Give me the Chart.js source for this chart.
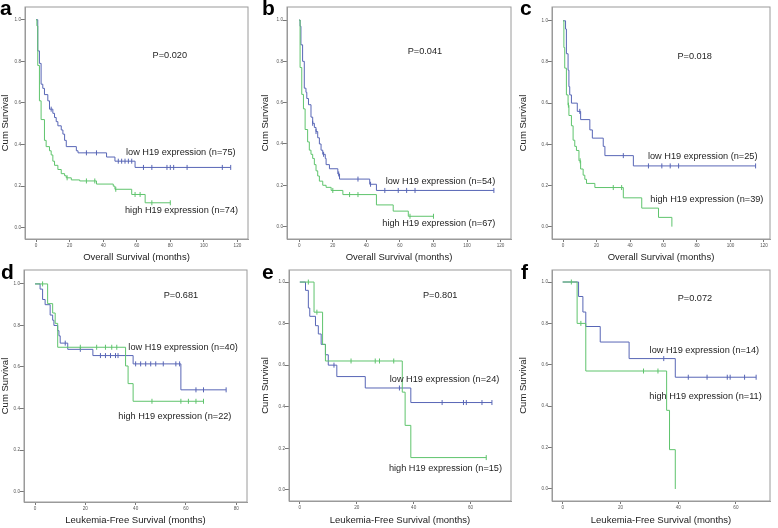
<!DOCTYPE html>
<html><head><meta charset="utf-8">
<script src="https://cdn.jsdelivr.net/npm/chart.js@4.4.1/dist/chart.umd.min.js"></script>
<style>
html,body{margin:0;padding:0;background:#fff;}
body{width:778px;height:528px;overflow:hidden;position:relative;}
canvas{position:absolute;}
</style>
</head><body>
<script>
// ---------- data (months, cumulative survival) ----------
const xTicksOS = [0, 20, 40, 60, 80, 100, 120];
const xTicksLFS = [0, 20, 40, 60, 80];
const xTicksLFS60 = [0, 20, 40, 60];
const yTicks = [0.0, 0.2, 0.4, 0.6, 0.8, 1.0];

// panel a
const aLowT = [0, 1, 2, 3, 4, 5, 7, 8, 10, 11, 12, 13, 15, 16, 17, 18, 24, 25, 42, 47, 59, 116];
const aLowS = [1.0, 0.85, 0.79, 0.69, 0.67, 0.64, 0.61, 0.57, 0.55, 0.53, 0.51, 0.49, 0.47, 0.45, 0.42, 0.39, 0.37, 0.36, 0.34, 0.32, 0.29, 0.29];
const aLowCens = [9, 30, 36, 49, 51, 53, 55, 57, 64, 69, 78, 80, 82, 90, 111, 116];
const aHighT = [0, 0.5, 1, 2, 3, 5, 6, 8, 9, 10, 11, 13, 15, 17, 18, 21, 26, 36, 46, 47, 57, 65, 80];
const aHighS = [1.0, 0.97, 0.78, 0.61, 0.52, 0.42, 0.39, 0.37, 0.35, 0.32, 0.30, 0.28, 0.26, 0.25, 0.24, 0.23, 0.225, 0.21, 0.20, 0.185, 0.16, 0.12, 0.12];
const aHighCens = [18.5, 30, 35, 47.5, 59, 62, 69, 80];

// panel b
const bLowT = [0, 0.5, 1, 2, 3, 4, 4.5, 5.5, 7, 8, 9, 10, 11, 12, 13, 14, 15.5, 16, 18, 23, 24, 42, 46, 116];
const bLowS = [1, 0.97, 0.88, 0.80, 0.67, 0.65, 0.62, 0.59, 0.53, 0.50, 0.48, 0.46, 0.43, 0.40, 0.37, 0.35, 0.33, 0.30, 0.28, 0.255, 0.23, 0.205, 0.175, 0.175];
const bLowCens = [8, 10, 14.5, 23.5, 35, 42.5, 51, 59, 64, 69, 116];
const bHighT = [0, 0.5, 1.5, 2.5, 3.5, 5, 6, 7, 8, 9, 10, 11, 12, 14, 16, 19, 26, 46, 56, 65, 80];
const bHighS = [1, 0.77, 0.64, 0.57, 0.47, 0.41, 0.37, 0.35, 0.33, 0.30, 0.27, 0.245, 0.22, 0.20, 0.19, 0.175, 0.155, 0.105, 0.075, 0.05, 0.05];
const bHighCens = [20, 30, 35, 66, 80];

// panel c
const cLowT = [0, 1.5, 2, 3, 3.5, 4, 5, 8.5, 10.5, 16, 17.5, 24, 25, 42, 115];
const cLowS = [1, 0.96, 0.84, 0.76, 0.68, 0.64, 0.60, 0.56, 0.52, 0.47, 0.43, 0.39, 0.345, 0.295, 0.295];
const cLowCens = [10, 36, 51, 59, 64, 69, 115];
const cHighT = [0, 0.5, 1, 2, 3, 3.5, 5, 6, 7, 8, 9.5, 10.5, 12, 13, 14, 19, 36, 47, 57, 65];
const cHighS = [1, 0.87, 0.77, 0.64, 0.59, 0.54, 0.49, 0.42, 0.39, 0.37, 0.32, 0.28, 0.25, 0.23, 0.21, 0.19, 0.14, 0.09, 0.045, 0.0];
const cHighCens = [3.2, 10.2, 30, 35];

// panel d
const dLowT = [0, 2, 3, 4, 6, 7, 7.5, 9, 9.5, 10, 13, 23, 39, 58, 76];
const dLowS = [1, 0.975, 0.925, 0.90, 0.85, 0.825, 0.80, 0.775, 0.75, 0.715, 0.685, 0.655, 0.615, 0.49, 0.49];
const dLowCens = [12, 18, 26, 28, 30, 32, 33, 40, 42, 44, 46, 48, 51, 56, 57.5, 64, 67, 76];
const dHighT = [0, 5, 7, 8, 9, 36, 37, 39, 67];
const dHighS = [1, 0.905, 0.86, 0.81, 0.695, 0.605, 0.52, 0.435, 0.435];
const dHighCens = [3, 18, 24.5, 28, 30.5, 32.5, 46.5, 58, 61, 64, 67];

// panel e
const eLowT = [0, 2, 3, 3.5, 5.5, 6.5, 7.5, 9, 10, 13, 23, 39, 67.5];
const eLowS = [1, 0.96, 0.875, 0.835, 0.79, 0.75, 0.70, 0.65, 0.60, 0.545, 0.49, 0.42, 0.42];
const eLowCens = [12, 35, 50, 57.5, 58.5, 64, 67.5];
const eHighT = [0, 5, 8, 9, 36, 37, 39, 65.5];
const eHighS = [1, 0.855, 0.70, 0.62, 0.47, 0.31, 0.155, 0.155];
const eHighCens = [3, 6, 18, 26.5, 28, 33, 65.5];

// panel f
const fLowT = [0, 5.5, 7, 8, 13, 23, 39, 67];
const fLowS = [1, 0.93, 0.855, 0.785, 0.71, 0.63, 0.54, 0.54];
const fLowCens = [35, 43.5, 50, 57, 58, 63, 67];
const fHighT = [0, 5, 8, 36, 37, 39];
const fHighS = [1, 0.80, 0.57, 0.38, 0.19, 0.0];
const fHighCens = [3, 6.3, 28, 33];

const pValues = ['P=0.020', 'P=0.041', 'P=0.018', 'P=0.681', 'P=0.801', 'P=0.072'];
const lowLabels = ['low H19 expression (n=75)', 'low H19 expression (n=54)', 'low H19 expression (n=25)', 'low H19 expression (n=40)', 'low H19 expression (n=24)', 'low H19 expression (n=14)'];
const highLabels = ['high H19 expression (n=74)', 'high H19 expression (n=67)', 'high H19 expression (n=39)', 'high H19 expression (n=22)', 'high H19 expression (n=15)', 'high H19 expression (n=11)'];
const panelLetters = ['a', 'b', 'c', 'd', 'e', 'f'];
const xTitles = ['Overall Survival (months)', 'Overall Survival (months)', 'Overall Survival (months)',
  'Leukemia-Free Survival (months)', 'Leukemia-Free Survival (months)', 'Leukemia-Free Survival (months)'];
const yTitle = 'Cum Survival';

// ---------- styling / layout ----------
const FONT = "'Liberation Sans', Arial, Helvetica, sans-serif";
const BLUE = '#5866b6';
const GREEN = '#5fc46d';
const FRAME = '#9a9a9a';

function stepAt(T, S, t) {
  let v = S[0];
  for (let i = 0; i < T.length; i++) { if (T[i] <= t) v = S[i]; }
  return v;
}

const deco = {
  id: 'deco',
  beforeDatasetsDraw(chart) {
    const {ctx, chartArea: a} = chart;
    ctx.save();
    ctx.strokeStyle = FRAME; ctx.lineWidth = 1;
    ctx.strokeRect(a.left, a.top, a.right - a.left, a.bottom - a.top);
    ctx.restore();
  },
  afterDraw(chart, args, o) {
    const {ctx, scales: {x, y}} = chart;
    ctx.save();
    ctx.fillStyle = '#1e1e1e';
    ctx.font = `9.2px ${FONT}`;
    ctx.textBaseline = 'middle';
    for (const n of o.notes) {
      ctx.textAlign = n.align;
      ctx.fillText(n.text, x.getPixelForValue(n.x), y.getPixelForValue(n.y));
    }
    ctx.font = `bold 21px ${FONT}`;
    ctx.fillStyle = '#000';
    ctx.textAlign = 'left';
    ctx.textBaseline = 'alphabetic';
    ctx.fillText(o.letter, o.lx, o.ly);
    ctx.restore();
  }
};

const panels = [
  {ox: 0, oy: 0, w: 260, h: 263, L: 25, T: 7, R: 248, B: 239, xmin: -6.6, xmax: 126.3, ymin: -0.054, ymax: 1.061,
   xt: xTicksOS, tb: 0, lx: 0, ly: 15,
   low: [aLowT, aLowS, aLowCens], high: [aHighT, aHighS, aHighCens],
   pos: [[79.7, 0.83], [53.6, 0.363], [53, 0.082]]},
  {ox: 260, oy: 0, w: 258, h: 263, L: 287, T: 7, R: 511, B: 239, xmin: -7.3, xmax: 126.2, ymin: -0.06, ymax: 1.063,
   xt: xTicksOS, tb: 0, lx: 2, ly: 15,
   low: [bLowT, bLowS, bLowCens], high: [bHighT, bHighS, bHighCens],
   pos: [[74.9, 0.847], [51.5, 0.218], [49.5, 0.013]]},
  {ox: 518, oy: 0, w: 260, h: 263, L: 552, T: 7, R: 770, B: 239, xmin: -6.6, xmax: 123.6, ymin: -0.06, ymax: 1.067,
   xt: xTicksOS, tb: 0, lx: 2, ly: 15,
   low: [cLowT, cLowS, cLowCens], high: [cHighT, cHighS, cHighCens],
   pos: [[78.6, 0.829], [50.7, 0.343], [52.1, 0.133]]},
  {ox: 0, oy: 263, w: 260, h: 265, L: 24, T: 270, R: 247, B: 502, xmin: -4.4, xmax: 84.3, ymin: -0.05, ymax: 1.067,
   xt: xTicksLFS, tb: 1.6, lx: 1, ly: 16,
   low: [dLowT, dLowS, dLowCens], high: [dHighT, dHighS, dHighCens],
   pos: [[58, 0.946], [37.1, 0.696], [33.1, 0.3625]]},
  {ox: 260, oy: 263, w: 258, h: 265, L: 289, T: 270, R: 511, B: 501, xmin: -3.8, xmax: 74.2, ymin: -0.054, ymax: 1.058,
   xt: xTicksLFS60, tb: 1.6, lx: 2, ly: 16,
   low: [eLowT, eLowS, eLowCens], high: [eHighT, eHighS, eHighCens],
   pos: [[49.3, 0.934], [31.6, 0.53], [31.3, 0.101]]},
  {ox: 518, oy: 263, w: 260, h: 265, L: 552, T: 270, R: 770, B: 501, xmin: -3.7, xmax: 71.8, ymin: -0.058, ymax: 1.058,
   xt: xTicksLFS60, tb: 1.6, lx: 3, ly: 16,
   low: [fLowT, fLowS, fLowCens], high: [fHighT, fHighS, fHighCens],
   pos: [[45.8, 0.919], [30.1, 0.67], [30, 0.448]]}
];

function groupDatasets(g, color) {
  const [T, S, C] = g;
  return [
    {data: T.map((t, i) => ({x: t, y: S[i]})), stepped: 'before', borderColor: color, borderWidth: 1,
     pointRadius: 0, fill: false},
    {data: C.map(t => ({x: t, y: stepAt(T, S, t)})), showLine: false, pointStyle: 'line', pointRotation: 90,
     pointRadius: 2.5, pointBorderWidth: 1, pointBorderColor: color, borderColor: color, backgroundColor: color}
  ];
}

panels.forEach((p, k) => {
  const cv = document.createElement('canvas');
  cv.width = p.w; cv.height = p.h;
  cv.style.left = p.ox + 'px'; cv.style.top = p.oy + 'px';
  cv.style.width = p.w + 'px'; cv.style.height = p.h + 'px';
  document.body.appendChild(cv);
  new Chart(cv, {
    type: 'line',
    data: {datasets: [...groupDatasets(p.high, GREEN), ...groupDatasets(p.low, BLUE)]},
    options: {
      responsive: false, animation: false, devicePixelRatio: 1,
      layout: {autoPadding: false, padding: {top: p.T - p.oy, right: p.ox + p.w - p.R, left: 0, bottom: 0}},
      plugins: {
        legend: {display: false}, tooltip: {enabled: false},
        deco: {
          letter: panelLetters[k], lx: p.lx, ly: p.ly,
          notes: [
            {text: pValues[k], x: p.pos[0][0], y: p.pos[0][1], align: 'center'},
            {text: lowLabels[k], x: p.pos[1][0], y: p.pos[1][1], align: 'left'},
            {text: highLabels[k], x: p.pos[2][0], y: p.pos[2][1], align: 'left'}
          ]
        }
      },
      scales: {
        x: {
          type: 'linear', min: p.xmin, max: p.xmax,
          afterBuildTicks: s => { s.ticks = p.xt.map(v => ({value: v})); },
          afterFit: s => { s.height = p.oy + p.h - p.B; },
          grid: {drawOnChartArea: false, drawTicks: true, tickLength: 3, color: '#777'},
          border: {color: FRAME},
          ticks: {font: {family: FONT, size: 4.6}, color: '#555', padding: 1, maxRotation: 0, autoSkip: false,
                  callback: v => String(v)},
          title: {display: true, text: xTitles[k], font: {family: FONT, size: 9.5}, color: '#222',
                  padding: {top: 0, bottom: p.tb}}
        },
        y: {
          type: 'linear', min: p.ymin, max: p.ymax,
          afterBuildTicks: s => { s.ticks = yTicks.map(v => ({value: v})); },
          afterFit: s => { s.width = p.L - p.ox; },
          grid: {drawOnChartArea: false, drawTicks: true, tickLength: 4, color: '#777'},
          border: {color: FRAME},
          ticks: {font: {family: FONT, size: 4.6}, color: '#555', padding: 0, autoSkip: false,
                  callback: v => Number(v).toFixed(1)},
          title: {display: true, text: yTitle, font: {family: FONT, size: 9.5}, color: '#222', padding: 0}
        }
      }
    },
    plugins: [deco]
  });
});
</script>
</body></html>
